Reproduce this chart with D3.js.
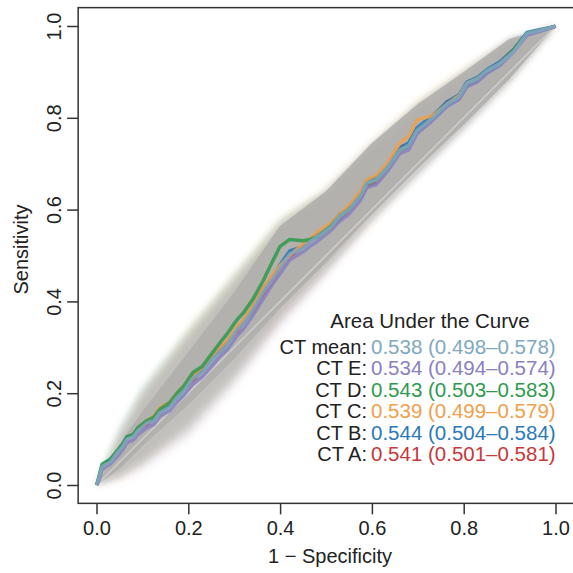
<!DOCTYPE html>
<html>
<head>
<meta charset="utf-8">
<script src="https://cdn.jsdelivr.net/npm/d3@7"></script>
<style>
  body { margin: 0; background: #fff; }
  svg { display: block; font-family: "Liberation Sans", Arial, sans-serif; }
</style>
</head>
<body>
<svg id="drawing_region"></svg>
<script>
// ROC curves, one per CT reader plus the mean
const seriesNames = ['CT A', 'CT B', 'CT C', 'CT D', 'CT E', 'CT mean'];
const seriesColors = ['#c8383a', '#2a7ab9', '#f0a04b', '#2e9a4e', '#8a80c2', '#7fa8c0'];

// false positive rate (1 - specificity) shared by all curves
const fpr = [0, 0.004, 0.012, 0.02, 0.03, 0.045, 0.058, 0.066, 0.08, 0.09,
  0.11, 0.125, 0.138, 0.16, 0.175, 0.19, 0.21, 0.23, 0.254, 0.269,
  0.285, 0.306, 0.32, 0.341, 0.363, 0.385, 0.40, 0.421, 0.45, 0.465,
  0.48, 0.509, 0.53, 0.55, 0.575, 0.589, 0.61, 0.633, 0.661, 0.68,
  0.698, 0.733, 0.764, 0.79, 0.807, 0.83, 0.851, 0.879, 0.91, 0.938,
  0.965, 0.995, 1];

const tprA = [0, 0.008, 0.038, 0.046, 0.052, 0.068, 0.082, 0.102, 0.108, 0.12,
  0.132, 0.145, 0.16, 0.175, 0.195, 0.21, 0.228, 0.25, 0.28, 0.29,
  0.31, 0.335, 0.355, 0.378, 0.415, 0.445, 0.47, 0.498, 0.52, 0.532,
  0.545, 0.558, 0.58, 0.598, 0.628, 0.65, 0.66, 0.688, 0.735, 0.742,
  0.77, 0.8, 0.835, 0.842, 0.87, 0.882, 0.9, 0.92, 0.95, 0.982,
  0.99, 0.998, 1];
const tprB = [0, 0.012, 0.042, 0.048, 0.055, 0.072, 0.09, 0.104, 0.11, 0.122,
  0.14, 0.145, 0.162, 0.175, 0.193, 0.21, 0.238, 0.25, 0.28, 0.298,
  0.312, 0.342, 0.355, 0.39, 0.428, 0.455, 0.48, 0.51, 0.52, 0.535,
  0.545, 0.565, 0.59, 0.605, 0.635, 0.662, 0.67, 0.695, 0.735, 0.745,
  0.778, 0.805, 0.835, 0.85, 0.878, 0.888, 0.905, 0.922, 0.95, 0.986,
  0.992, 0.998, 1];
const tprC = [0, 0.008, 0.036, 0.043, 0.05, 0.068, 0.083, 0.097, 0.108, 0.122,
  0.14, 0.15, 0.168, 0.18, 0.2, 0.215, 0.24, 0.255, 0.285, 0.3,
  0.315, 0.345, 0.36, 0.392, 0.43, 0.46, 0.478, 0.5, 0.525, 0.535,
  0.55, 0.57, 0.59, 0.61, 0.64, 0.665, 0.675, 0.7, 0.745, 0.76,
  0.795, 0.805, 0.83, 0.848, 0.875, 0.885, 0.9, 0.918, 0.948, 0.982,
  0.99, 0.997, 1];
const tprD = [0, 0.012, 0.045, 0.05, 0.056, 0.075, 0.09, 0.105, 0.11, 0.125,
  0.14, 0.148, 0.165, 0.18, 0.2, 0.215, 0.245, 0.258, 0.29, 0.31,
  0.33, 0.36, 0.375, 0.405, 0.445, 0.49, 0.52, 0.535, 0.532, 0.535,
  0.54, 0.562, 0.585, 0.6, 0.625, 0.655, 0.665, 0.688, 0.728, 0.738,
  0.77, 0.798, 0.828, 0.843, 0.872, 0.883, 0.9, 0.916, 0.95, 0.984,
  0.99, 0.998, 1];
const tprE = [0, 0.006, 0.032, 0.04, 0.046, 0.062, 0.078, 0.092, 0.098, 0.11,
  0.125, 0.132, 0.15, 0.162, 0.18, 0.195, 0.22, 0.235, 0.262, 0.28,
  0.295, 0.325, 0.34, 0.37, 0.405, 0.44, 0.46, 0.49, 0.508, 0.52,
  0.53, 0.553, 0.575, 0.59, 0.62, 0.648, 0.655, 0.682, 0.722, 0.73,
  0.765, 0.795, 0.825, 0.84, 0.868, 0.878, 0.897, 0.914, 0.945, 0.98,
  0.988, 0.997, 1];
const tprMean = [0, 0.01, 0.04, 0.045, 0.05, 0.07, 0.085, 0.1, 0.105, 0.118,
  0.135, 0.14, 0.158, 0.17, 0.19, 0.205, 0.232, 0.245, 0.275, 0.29,
  0.305, 0.338, 0.35, 0.382, 0.42, 0.45, 0.472, 0.503, 0.515, 0.53,
  0.54, 0.56, 0.585, 0.6, 0.63, 0.657, 0.665, 0.69, 0.73, 0.74,
  0.772, 0.8, 0.83, 0.845, 0.875, 0.885, 0.903, 0.918, 0.945, 0.984,
  0.99, 0.998, 1];

// confidence bands, on a coarser grid
const bandX = [0, 0.05, 0.1, 0.2, 0.3, 0.4, 0.5, 0.6, 0.7, 0.8, 0.9, 1];
const bandUpA = [0, 0.11, 0.2, 0.33, 0.45, 0.57, 0.64, 0.74, 0.83, 0.9, 0.97, 1];
const bandLoA = [0, 0.02, 0.05, 0.13, 0.24, 0.36, 0.47, 0.58, 0.68, 0.78, 0.88, 1];
const bandUpB = [0, 0.12, 0.21, 0.33, 0.45, 0.57, 0.64, 0.74, 0.83, 0.9, 0.97, 1];
const bandLoB = [0, 0.02, 0.05, 0.12, 0.23, 0.36, 0.47, 0.58, 0.68, 0.78, 0.88, 1];
const bandUpC = [0, 0.11, 0.2, 0.34, 0.46, 0.58, 0.65, 0.75, 0.84, 0.91, 0.97, 1];
const bandLoC = [0, 0.01, 0.04, 0.11, 0.22, 0.35, 0.46, 0.57, 0.68, 0.78, 0.88, 1];
const bandUpD = [0, 0.12, 0.21, 0.34, 0.46, 0.58, 0.64, 0.74, 0.83, 0.9, 0.97, 1];
const bandLoD = [0, 0.02, 0.05, 0.13, 0.24, 0.37, 0.47, 0.58, 0.68, 0.78, 0.88, 1];
const bandUpE = [0, 0.1, 0.19, 0.32, 0.44, 0.56, 0.63, 0.73, 0.82, 0.89, 0.97, 1];
const bandLoE = [0, 0.01, 0.03, 0.1, 0.21, 0.34, 0.45, 0.57, 0.67, 0.77, 0.88, 1];
const bandUpMean = [0, 0.09, 0.16, 0.29, 0.42, 0.565, 0.64, 0.745, 0.83, 0.9, 0.972, 1];
const bandLoMean = [0, 0.035, 0.085, 0.175, 0.275, 0.385, 0.485, 0.59, 0.69, 0.785, 0.885, 1];

// legend (top row first)
const legendTitle = 'Area Under the Curve';
const legendLabels = ['CT mean:', 'CT E:', 'CT D:', 'CT C:', 'CT B:', 'CT A:'];
const legendIndex = [5, 4, 3, 2, 1, 0];
const aucValues = [0.541, 0.544, 0.539, 0.543, 0.534, 0.538];
const aucLow = [0.501, 0.504, 0.499, 0.503, 0.494, 0.498];
const aucHigh = [0.581, 0.584, 0.579, 0.583, 0.574, 0.578];

const tickValues = [0, 0.2, 0.4, 0.6, 0.8, 1.0];

const tprs = [tprA, tprB, tprC, tprD, tprE, tprMean];
const bandsUp = [bandUpA, bandUpB, bandUpC, bandUpD, bandUpE];
const bandsLo = [bandLoA, bandLoB, bandLoC, bandLoD, bandLoE];

const width = 573, height = 573;
const svg = d3.select('#drawing_region').attr('width', width).attr('height', height);

const x = d3.scaleLinear().domain([0, 1]).range([96.5, 555.5]);
const y = d3.scaleLinear().domain([0, 1]).range([485, 26]);
const boxLeft = x(-0.04), boxRight = x(1.04), boxTop = y(1.04), boxBottom = y(-0.04);

function bandPath(up, lo) {
  return d3.area()
    .x(i => x(bandX[i]))
    .y0(i => y(lo[i]))
    .y1(i => y(up[i]))(d3.range(bandX.length));
}

const plot = svg.append('g');

// blur for the soft coloured bands
const defs = svg.append('defs');
defs.append('filter').attr('id', 'soft')
  .attr('x', '-10%').attr('y', '-10%').attr('width', '120%').attr('height', '120%')
  .append('feGaussianBlur').attr('stdDeviation', 3);

// coloured bands first
bandsUp.forEach((up, s) => {
  plot.append('path')
    .attr('d', bandPath(up, bandsLo[s]))
    .attr('fill', seriesColors[s])
    .attr('fill-opacity', 0.13)
    .attr('filter', 'url(#soft)');
});

// grey band of the mean
plot.append('path')
  .attr('d', bandPath(bandUpMean, bandLoMean))
  .attr('fill', '#b0aeab')
  .attr('fill-opacity', 0.85);

// chance line
plot.append('line')
  .attr('x1', x(0)).attr('y1', y(0))
  .attr('x2', x(1)).attr('y2', y(1))
  .attr('stroke', '#cfcfcf')
  .attr('stroke-width', 1.5);

tprs.forEach((tpr, s) => {
  plot.append('path')
    .attr('d', d3.line().x(i => x(fpr[i])).y(i => y(tpr[i]))(d3.range(fpr.length)))
    .attr('fill', 'none')
    .attr('stroke', seriesColors[s])
    .attr('stroke-width', 3.5)
    .attr('stroke-linejoin', 'round')
    .attr('stroke-opacity', 0.85);
});

// box
svg.append('rect')
  .attr('x', boxLeft).attr('y', boxTop)
  .attr('width', boxRight - boxLeft).attr('height', boxBottom - boxTop)
  .attr('fill', 'none')
  .attr('stroke', '#333')
  .attr('stroke-width', 1.5);

// axes
const xAxis = svg.append('g')
  .attr('transform', `translate(0,${boxBottom})`)
  .call(d3.axisBottom(x).tickValues(tickValues).tickFormat(d3.format('.1f')).tickSize(11).tickPadding(6));
const yAxis = svg.append('g')
  .attr('transform', `translate(${boxLeft},0)`)
  .call(d3.axisLeft(y).tickValues(tickValues).tickFormat(d3.format('.1f')).tickSize(11));

[xAxis, yAxis].forEach(ax => {
  ax.select('.domain').remove();
  ax.selectAll('.tick line').attr('stroke', '#333').attr('stroke-width', 1.5);
  ax.selectAll('.tick text')
    .attr('fill', '#222')
    .style('font-size', '20px')
    .style('font-family', '"Liberation Sans", Arial, sans-serif');
});
yAxis.selectAll('.tick text')
  .attr('transform', 'rotate(-90)')
  .attr('x', 0)
  .attr('y', -17)
  .attr('dy', 0)
  .attr('text-anchor', 'middle');

svg.append('text')
  .attr('x', (x(0) + x(1)) / 2 + 4)
  .attr('y', 563)
  .attr('text-anchor', 'middle')
  .attr('fill', '#222')
  .style('font-size', '20px')
  .text('1 \u2212 Specificity');

svg.append('text')
  .attr('transform', `translate(28,${(y(0) + y(1)) / 2 - 6}) rotate(-90)`)
  .attr('text-anchor', 'middle')
  .attr('fill', '#222')
  .style('font-size', '20px')
  .text('Sensitivity');

// legend
const legend = svg.append('g');
legend.append('text')
  .attr('x', 430).attr('y', 328)
  .attr('text-anchor', 'middle')
  .attr('fill', '#222')
  .style('font-size', '20.5px')
  .text(legendTitle);

legendLabels.forEach((lab, r) => {
  const s = legendIndex[r];
  const yy = 354 + r * 21.4;
  legend.append('text')
    .attr('x', 367).attr('y', yy)
    .attr('text-anchor', 'end')
    .attr('fill', '#222')
    .style('font-size', '20px')
    .text(lab);
  legend.append('text')
    .attr('x', 371).attr('y', yy)
    .attr('fill', seriesColors[s])
    .style('font-size', '20.5px')
    .text(`${aucValues[s].toFixed(3)} (${aucLow[s].toFixed(3)}\u2013${aucHigh[s].toFixed(3)})`);
});
</script>
</body>
</html>
